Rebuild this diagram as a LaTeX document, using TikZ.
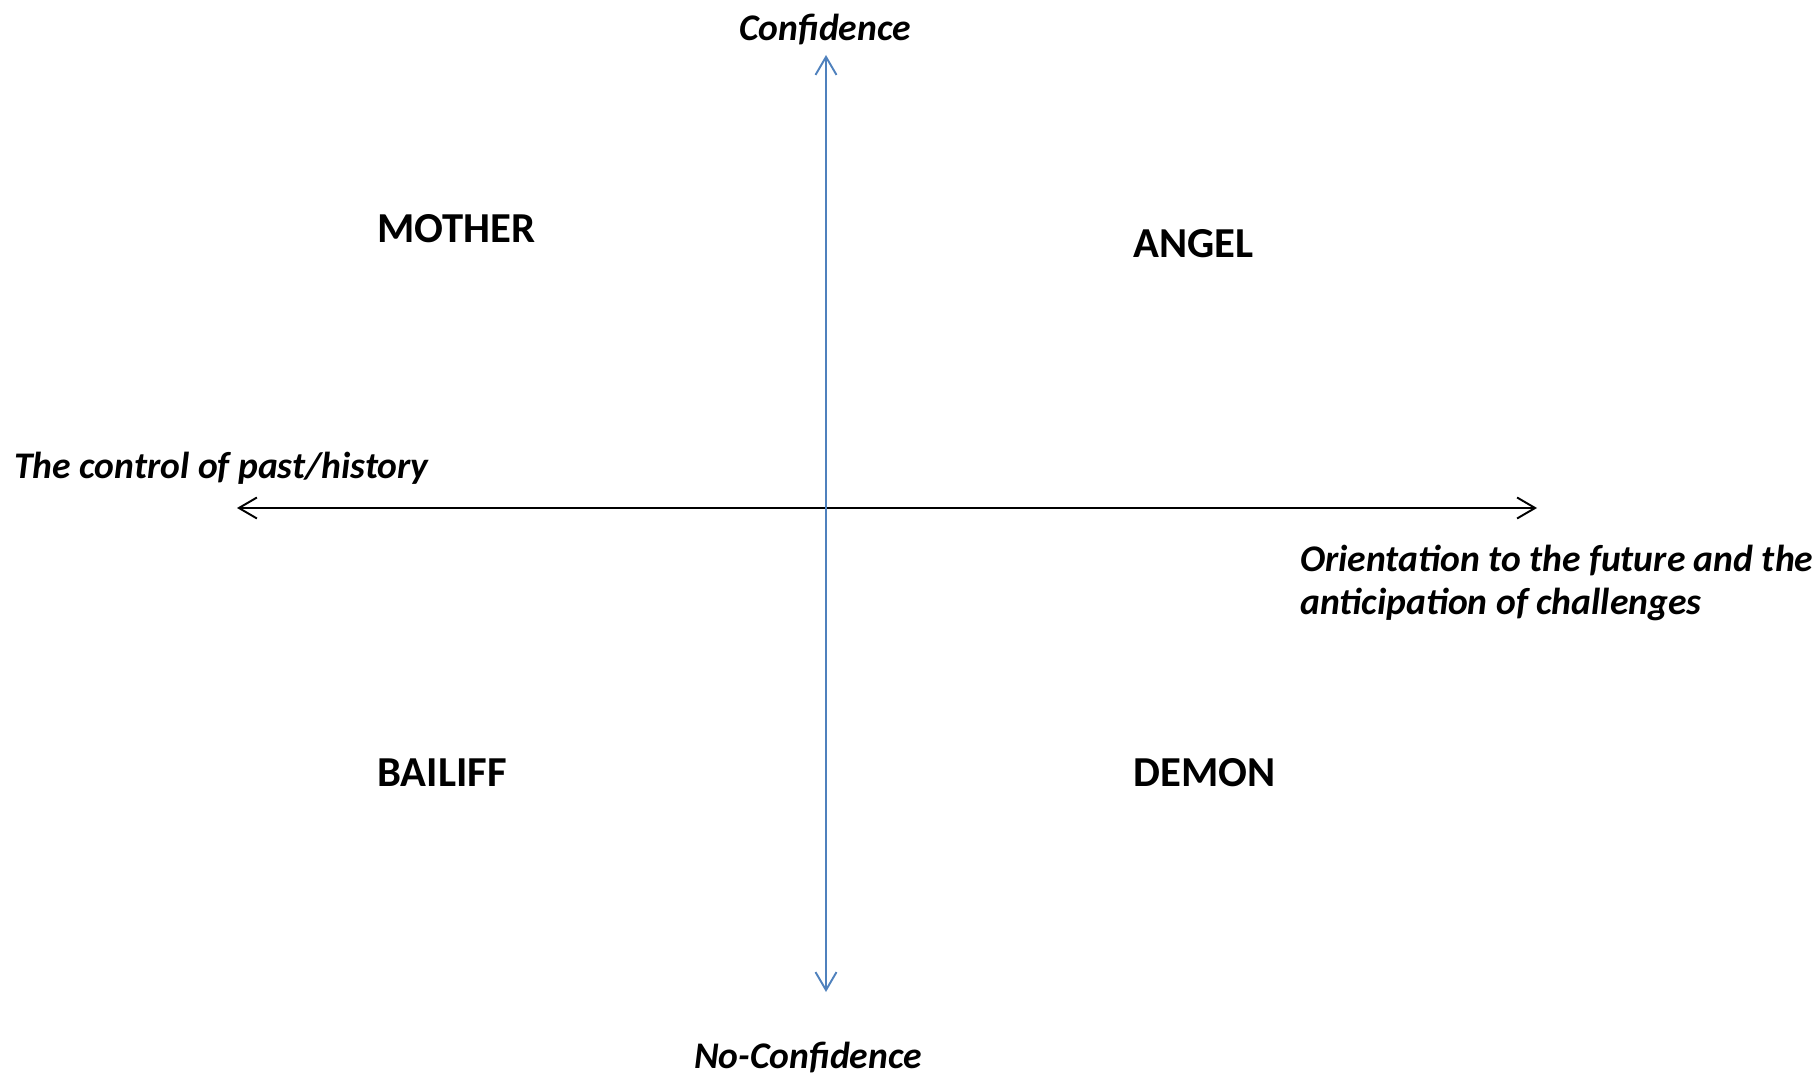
\documentclass[tikz,border=0pt]{standalone}
\usepackage{fontspec}
\setmainfont{Carlito}
\usetikzlibrary{arrows.meta}

\definecolor{axisblue}{HTML}{4F81BD}

\tikzset{
	quad/.style={anchor=base west,inner sep=0pt,font=\fontsize{24.3}{29}\selectfont\bfseries},
	axlabel/.style={inner sep=0pt,font=\fontsize{21.4}{25}\selectfont\bfseries\itshape},
	axisline/.style={line width=1.1pt,{Straight Barb[length=3.6mm,width=4.2mm]}-{Straight Barb[length=3.6mm,width=4.2mm]}}
}

\begin{document}
\begin{tikzpicture}[x=0.02cm,y=0.02cm]
	\useasboundingbox (0,0) rectangle (1813,1076);

	\coordinate (top)    at (826, 1021);
	\coordinate (bottom) at (826, 84);
	\coordinate (left)   at (237, 568);
	\coordinate (right)  at (1537, 568);

	\node[axlabel,anchor=base] (conf)   at (825, 1035) {Confidence};
	\node[axlabel,anchor=base] (noconf) at (808, 8)    {No-Confidence};
	\node[axlabel,anchor=base west] (past) at (14, 597) {The control of past/history};
	\node[axlabel,anchor=base west,align=left] (future) at (1300, 461)
		{Orientation to the future and the\\anticipation of challenges};

	\node[quad] (mother)  at (377, 833) {MOTHER};
	\node[quad] (angel)   at (1133, 818) {ANGEL};
	\node[quad] (bailiff) at (377, 289) {BAILIFF};
	\node[quad] (demon)   at (1133, 289) {DEMON};

	\draw[axisline,black] (left) -- (right);
	\draw[axisline,axisblue] (top) -- (bottom);

\end{tikzpicture}
\end{document}
